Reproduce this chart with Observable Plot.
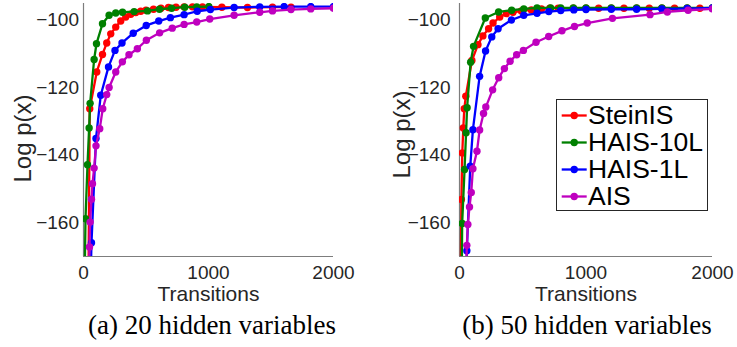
<!DOCTYPE html>
<html><head><meta charset="utf-8">
<script src="https://cdn.jsdelivr.net/npm/d3@7"></script>
<script src="https://cdn.jsdelivr.net/npm/@observablehq/plot@0.6"></script>
<style>
html,body{margin:0;padding:0;background:#fff;}
#wrap{position:relative;width:737px;height:347px;overflow:hidden;background:#fff;}
.panel{position:absolute;top:0;}
.cap{position:absolute;top:312px;font-family:"Liberation Serif","Times New Roman",serif;font-size:27px;line-height:27px;color:#000;white-space:nowrap;transform:translateX(-50%);}
#legend{position:absolute;left:556px;top:99px;width:150px;height:110px;border:1px solid #262626;background:#fff;font-family:"Liberation Sans",Arial,sans-serif;}
.row{position:absolute;left:0;height:27px;width:150px;}
.row svg{position:absolute;left:0;top:0;}
.row span{position:absolute;left:31px;top:0;font-size:26.5px;line-height:27px;color:#000;white-space:nowrap;}
</style>
</head><body>
<div id="wrap">
  <div id="pa" class="panel" style="left:0px"></div>
  <div id="pb" class="panel" style="left:370px"></div>
  <div id="legend"></div>
  <div id="capa" class="cap" style="left:212px"></div>
  <div id="capb" class="cap" style="left:587px"></div>
</div>
<script>
// ---- labels ----
const seriesNames = ["SteinIS", "HAIS-10L", "HAIS-1L", "AIS"];
const seriesColors = ["#ff0000", "#008000", "#0000ff", "#bf00bf"];
const xTicks = [0, 1000, 2000];
const yTicks = [-160, -140, -120, -100];
const xDomain = [0, 2000];
const yDomain = [-170, -95];
const xLabel = "Transitions";
const yLabel = "Log p(x)";
const captions = ["(a) 20 hidden variables", "(b) 50 hidden variables"];

// ---- panel (a): 20 hidden variables ----
const steinA_x = [38, 50, 106, 152, 186, 218, 258, 298, 338, 378, 418, 458, 500, 560, 620, 680, 740, 805, 872, 952, 1107, 1312, 1512, 1660];
const steinA_y = [-185, -126.2, -115.3, -110.1, -106.7, -104, -102, -100.2, -99, -98.2, -97.7, -97.3, -97, -96.7, -96.4, -96.2, -96.1, -96, -96, -96, -96.1, -96.2, -96.1, -96.1];
const hais10A_x = [8, 16, 32, 45, 53, 85, 104, 152, 205, 258, 312, 405, 512, 608, 705, 810, 906, 1003];
const hais10A_y = [-180, -158.8, -142.8, -131.9, -124.6, -111.6, -106.9, -101, -98.5, -97.8, -97.6, -97.4, -97.2, -96.7, -96.4, -96.1, -96, -95.9];
const hais1A_x = [55, 64, 100, 138, 200, 252, 308, 398, 502, 602, 695, 805, 910, 1015, 1205, 1410, 1605, 1818, 2000];
const hais1A_y = [-180, -165.9, -135, -122.2, -113.8, -108.9, -106.7, -103.8, -101.5, -100.2, -99.2, -98.3, -97.3, -96.8, -96.2, -96, -95.9, -95.9, -95.9];
const aisA_x = [40, 48, 53, 64, 72, 85, 100, 130, 154, 186, 205, 258, 311, 364, 431, 503, 609, 710, 805, 906, 1010, 1205, 1410, 1512, 1660, 1818, 2000];
const aisA_y = [-180, -167.2, -159.8, -153, -148.4, -143.8, -137.2, -132.1, -126.2, -122, -119.9, -115.3, -112.3, -110.2, -108.4, -105.9, -103.7, -102.3, -101.2, -100.5, -99.6, -98.5, -97.6, -97.2, -96.8, -96.6, -96.4];

// ---- panel (b): 50 hidden variables ----
const steinB_x = [8, 15, 22, 30, 38, 50, 98, 146, 185, 230, 265, 318, 370, 423, 489, 568, 648, 714, 780, 900, 1000, 1100, 1200, 1300, 1400, 1500, 1600, 1700, 1800, 1900, 2000];
const steinB_y = [-185, -153.1, -139.3, -131.9, -126.2, -122.5, -111.9, -107.2, -104.6, -102.5, -100.8, -99, -98, -97.6, -97.2, -96.9, -96.6, -96.4, -96.4, -96.4, -96.4, -96.4, -96.4, -96.4, -96.4, -96.4, -96.4, -96.4, -96.4, -96.4, -96.4];
const hais10B_x = [15, 21, 40, 52, 60, 88, 111, 204, 309, 412, 508, 613, 720, 800, 900, 1000, 1200, 1400, 1600, 1800, 2000];
const hais10B_y = [-190, -160.2, -144.2, -133.3, -125.9, -112.4, -107.7, -99.3, -97.5, -97, -96.6, -96.3, -96.3, -96.3, -96.3, -96.3, -96.3, -96.3, -96.3, -96.3, -96.3];
const hais1B_x = [50, 58, 85, 106, 159, 206, 255, 305, 410, 508, 613, 706, 800, 904, 1000, 1200, 1400, 1600, 1800, 2000];
const hais1B_y = [-185, -168.3, -143.2, -132.4, -116.6, -109.1, -104.9, -102.5, -99.9, -98.5, -97.9, -97.4, -97.1, -96.9, -96.8, -96.7, -96.7, -96.6, -96.5, -96.3];
const aisB_x = [50, 58, 66, 79, 93, 106, 138, 159, 190, 208, 262, 310, 355, 400, 452, 505, 605, 705, 810, 909, 1010, 1209, 1506, 1643, 1807, 2000];
const aisB_y = [-180, -166.7, -160.5, -155.3, -151, -144, -138.8, -132.5, -127.6, -125.7, -120.6, -117, -114.3, -112.1, -110.2, -108.9, -106.5, -104.8, -103.1, -101.8, -100.8, -99.4, -98.3, -97.5, -97, -96.6];

const panelA = [[steinA_x, steinA_y], [hais10A_x, hais10A_y], [hais1A_x, hais1A_y], [aisA_x, aisA_y]];
const panelB = [[steinB_x, steinB_y], [hais10B_x, hais10B_y], [hais1B_x, hais1B_y], [aisB_x, aisB_y]];

const FONT = '"Liberation Sans", Arial, Helvetica, sans-serif';
const axisColor = "#7d7d7d";
const txt = "#262626";

function makePanel(series, o) {
  const marks = [
    Plot.ruleY([yDomain[0]], {stroke: axisColor, strokeWidth: 1.2}),
    Plot.ruleX([xDomain[0]], {stroke: axisColor, strokeWidth: 1.2})
  ];
  series.forEach(([xs, ys], i) => {
    const rows = xs.map((x, j) => ({x, y: ys[j], s: seriesNames[i]}));
    marks.push(Plot.line(rows, {x: "x", y: "y", stroke: seriesColors[i], strokeWidth: 2.3, clip: true}));
    marks.push(Plot.dot(rows, {x: "x", y: "y", r: 3.7, fill: seriesColors[i], stroke: "none", clip: true}));
  });
  marks.push(Plot.text([yLabel], {text: d => d, frameAnchor: "left", rotate: -90, dx: o.ylDx, dy: o.ylDy,
    fontSize: 24, fill: txt, textAnchor: "middle", lineAnchor: "middle", fontFamily: FONT}));
  marks.push(Plot.text([xLabel], {text: d => d, frameAnchor: "bottom", dy: 38,
    fontSize: 21, fill: txt, textAnchor: "middle", lineAnchor: "middle", fontFamily: FONT}));
  return Plot.plot({
    width: o.width, height: 305,
    marginLeft: o.ml, marginRight: o.mr, marginTop: 3, marginBottom: 49,
    style: {fontFamily: FONT, fontSize: "19px", color: txt, background: "transparent", overflow: "visible"},
    x: {domain: xDomain, ticks: xTicks, tickSize: 0, tickPadding: 9, tickFormat: d3.format("d"), label: null},
    y: {domain: yDomain, ticks: yTicks, tickSize: 0, tickPadding: o.yPad, tickFormat: d3.format("d"), label: null},
    marks
  });
}

document.getElementById("pa").appendChild(makePanel(panelA, {width: 370, ml: 83, mr: 37, yPad: 4.5, ylDx: -60, ylDy: 8.5}));
document.getElementById("pb").appendChild(makePanel(panelB, {width: 367, ml: 89, mr: 25, yPad: 9, ylDx: -57.4, ylDy: 4.5}));

document.getElementById("capa").textContent = captions[0];
document.getElementById("capb").textContent = captions[1];

// legend
const leg = document.getElementById("legend");
seriesNames.forEach((name, i) => {
  const row = document.createElement("div");
  row.className = "row";
  row.style.top = (1.5 + 27.2 * i) + "px";
  const c = seriesColors[i];
  row.innerHTML = `<svg width="31" height="27"><line x1="4.7" x2="29.7" y1="13.5" y2="13.5" stroke="${c}" stroke-width="2.3"/><circle cx="17.2" cy="13.5" r="3.7" fill="${c}"/></svg><span></span>`;
  row.querySelector("span").textContent = name;
  leg.appendChild(row);
});
</script>
</body></html>
